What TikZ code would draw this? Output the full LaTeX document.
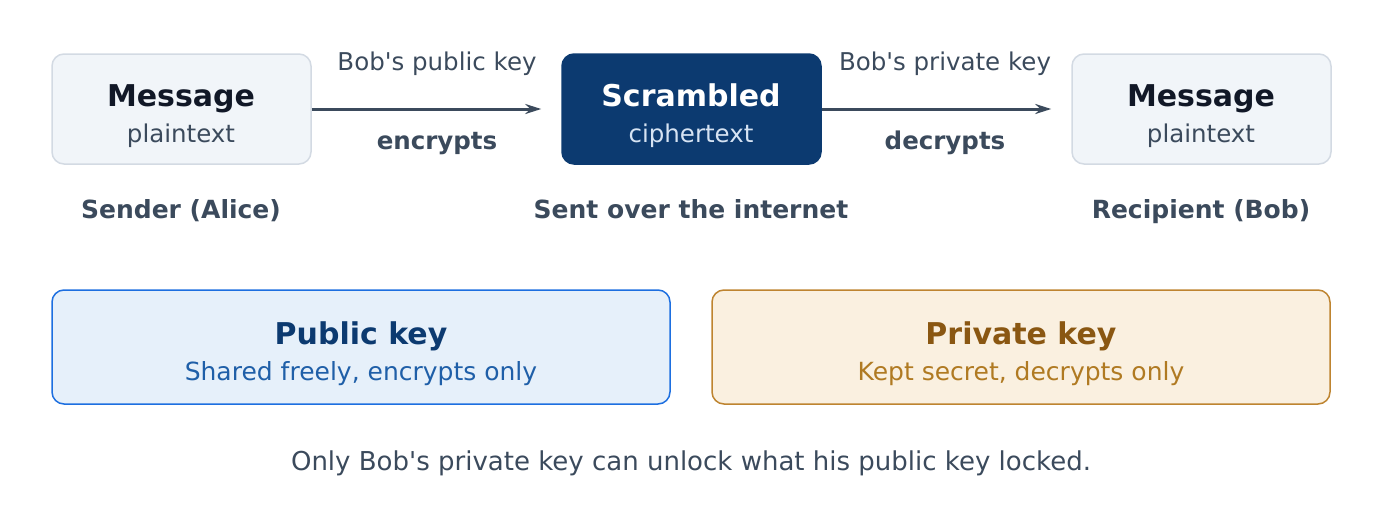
\documentclass[tikz,border=0pt]{standalone}
\usepackage{fontspec}
\setmainfont{DejaVu Sans}[Ligatures=TeXOff]
\usetikzlibrary{arrows.meta, positioning}

\definecolor{slatetext}{HTML}{3B4A5C}
\definecolor{darktext}{HTML}{111827}
\definecolor{lightfill}{HTML}{F1F5F9}
\definecolor{lightline}{HTML}{D3DAE3}
\definecolor{navy}{HTML}{0C3A70}
\definecolor{paleblue}{HTML}{D6E3F3}
\definecolor{pubfill}{HTML}{E6F0FA}
\definecolor{publine}{HTML}{1D6FE0}
\definecolor{pubtitle}{HTML}{0C3A70}
\definecolor{pubtext}{HTML}{1F5FA8}
\definecolor{privfill}{HTML}{FAF0E0}
\definecolor{privline}{HTML}{BE8430}
\definecolor{privtitle}{HTML}{8A5712}
\definecolor{privtext}{HTML}{B07A22}

\begin{document}
\begin{tikzpicture}[
    x=1pt, y=-1pt,
    msgbox/.style = {rectangle, rounded corners=12pt, draw=lightline, line width=1.5pt, fill=lightfill, minimum width=259pt, minimum height=110pt, inner sep=0pt},
    cipherbox/.style = {msgbox, draw=navy, fill=navy},
    keybox/.style = {rectangle, rounded corners=12pt, line width=1.5pt, minimum width=618pt, minimum height=114pt, inner sep=0pt},
    title/.style = {anchor=base, inner sep=0pt, font=\fontsize{30}{36}\selectfont\bfseries},
    sub/.style = {anchor=base, inner sep=0pt, font=\fontsize{24.5}{30}\selectfont},
    lbl/.style = {anchor=base, inner sep=0pt, text=slatetext, font=\fontsize{24.5}{30}\selectfont},
    role/.style = {lbl, font=\fontsize{25}{30}\selectfont\bfseries},
    flow/.style = {draw=slatetext, line width=3pt, -{Stealth[length=16pt, width=10pt]}}
]

\useasboundingbox (0,0) rectangle (1382,509);

% Top row
\node (alice) [msgbox] at (181.5,109) {};
\node (scr) [cipherbox] at (691.5,109) {};
\node (bob) [msgbox] at (1201.5,109) {};

\node (alicet) [title, text=darktext] at (181,106) {Message};
\node (alices) [sub, text=slatetext] at (181,142) {plaintext};
\node (scrt) [title, text=white] at (691,106) {Scrambled};
\node (scrs) [sub, text=paleblue] at (691,142) {ciphertext};
\node (bobt) [title, text=darktext] at (1201,106) {Message};
\node (bobs) [sub, text=slatetext] at (1201,142) {plaintext};

% Arrows
\draw [flow, shorten >=20pt] (alice.east) -- (scr.west);
\draw [flow, shorten >=20pt] (scr.east) -- (bob.west);

\node (pubk) [lbl] at (437,70) {Bob's public key};
\node (enc) [lbl, font=\fontsize{24.5}{30}\selectfont\bfseries] at (437,149) {encrypts};
\node (privk) [lbl] at (945,70) {Bob's private key};
\node (dec) [lbl, font=\fontsize{24.5}{30}\selectfont\bfseries] at (945,149) {decrypts};

% Roles
\node (sender) [role] at (181,218) {Sender (Alice)};
\node (inet) [role] at (691,218) {Sent over the internet};
\node (recip) [role] at (1201,218) {Recipient (Bob)};

% Key boxes
\node (pub) [keybox, draw=publine, fill=pubfill] at (361,347) {};
\node (priv) [keybox, draw=privline, fill=privfill] at (1021,347) {};
\node (pubt) [title, text=pubtitle] at (361,344) {Public key};
\node (pubs) [sub, font=\fontsize{25}{30}\selectfont, text=pubtext] at (361,380) {Shared freely, encrypts only};
\node (privt) [title, text=privtitle] at (1021,344) {Private key};
\node (privs) [sub, font=\fontsize{25}{30}\selectfont, text=privtext] at (1021,380) {Kept secret, decrypts only};

% Footer
\node (note) [lbl, font=\fontsize{26}{31}\selectfont] at (691,470) {Only Bob's private key can unlock what his public key locked.};

\end{tikzpicture}
\end{document}
